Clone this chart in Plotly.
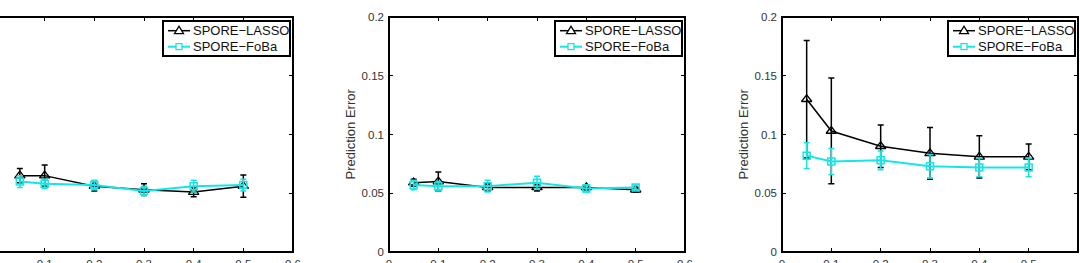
import plotly.graph_objects as go

# ---------------- data ----------------
x_vals = [0.05, 0.1, 0.2, 0.3, 0.4, 0.5]
series_names = ["SPORE−LASSO", "SPORE−FoBa"]

lasso_1 = [0.065, 0.065, 0.056, 0.053, 0.051, 0.056]
lasso_1_err = [0.006, 0.009, 0.004, 0.005, 0.004, 0.0095]
foba_1 = [0.060, 0.058, 0.057, 0.052, 0.056, 0.057]
foba_1_err = [0.005, 0.004, 0.004, 0.004, 0.005, 0.005]

lasso_2 = [0.059, 0.060, 0.055, 0.055, 0.055, 0.053]
lasso_2_err = [0.003, 0.008, 0.003, 0.003, 0.002, 0.002]
foba_2 = [0.057, 0.056, 0.056, 0.059, 0.054, 0.055]
foba_2_err = [0.004, 0.004, 0.005, 0.0055, 0.003, 0.002]

lasso_3 = [0.130, 0.103, 0.090, 0.084, 0.081, 0.081]
lasso_3_err = [0.050, 0.045, 0.018, 0.022, 0.018, 0.011]
foba_3 = [0.082, 0.077, 0.078, 0.073, 0.072, 0.072]
foba_3_err = [0.011, 0.011, 0.008, 0.010, 0.008, 0.008]

y_title = "Prediction Error"

# ---------------- styling / layout ----------------
W, H = 1080, 263
def fx(p): return p / W
def fy(p): return 1 - p / H

BLACK = "#000000"
CYAN = "#14e6e6"
FONT = "Liberation Sans, Arial, sans-serif"

panels = [(-5, 293), (389, 685), (782, 1078)]
TOP, BOT = 17, 252
XMAX = 0.6

data = [
    (lasso_1, lasso_1_err, foba_1, foba_1_err),
    (lasso_2, lasso_2_err, foba_2, foba_2_err),
    (lasso_3, lasso_3_err, foba_3, foba_3_err),
]

fig = go.Figure()
shapes = []
annotations = []

for i, ((l, r), (ly, le, fyv, fe)) in enumerate(zip(panels, data)):
    n = "" if i == 0 else str(i + 1)
    xa, ya = "x" + n, "y" + n
    fig.add_trace(go.Scatter(
        x=x_vals, y=ly, xaxis=xa, yaxis=ya, mode="lines+markers",
        name=series_names[0], showlegend=False,
        line=dict(color=BLACK, width=1.5),
        marker=dict(symbol="triangle-up-open", size=9, color=BLACK, line=dict(width=1.3)),
        error_y=dict(type="data", array=le, visible=True, color=BLACK, thickness=1.5, width=3),
    ))
    fig.add_trace(go.Scatter(
        x=x_vals, y=fyv, xaxis=xa, yaxis=ya, mode="lines+markers",
        name=series_names[1], showlegend=False,
        line=dict(color=CYAN, width=2),
        marker=dict(symbol="square-open", size=7, color=CYAN, line=dict(width=1.5)),
        error_y=dict(type="data", array=fe, visible=True, color=CYAN, thickness=1.5, width=3),
    ))

    left_vis = max(l, 0)
    x0val = XMAX * (left_vis - l) / (r - l)
    axis_common = dict(showgrid=False, zeroline=False, ticks="inside", ticklen=4,
                       tickwidth=1, tickcolor=BLACK, automargin=False,
                       tickfont=dict(family=FONT, size=11.5, color="#333333"))
    fig.update_layout(**{
        ("xaxis" + n): dict(domain=[fx(left_vis), fx(r)], range=[x0val, XMAX],
                            tick0=0, dtick=0.1, anchor=ya, showline=False,
                            mirror="ticks", ticklabelstandoff=3, **axis_common),
        ("yaxis" + n): dict(domain=[fy(BOT), fy(TOP)], range=[0, 0.2], dtick=0.05,
                            anchor=xa, showline=False,
                            side="right" if i == 0 else "left",
                            mirror=False if i == 0 else "ticks",
                            showticklabels=(i != 0), ticklabelstandoff=4,
                            **axis_common),
    })

    # plot box
    shapes.append(dict(type="rect", xref="paper", yref="paper",
                       x0=fx(l), x1=fx(r), y0=fy(BOT), y1=fy(TOP),
                       line=dict(color=BLACK, width=2), layer="above"))

    # y-axis title
    annotations.append(dict(text=y_title, xref="paper", yref="paper",
                            x=fx(l - 39), y=fy((TOP + BOT) / 2), textangle=-90,
                            showarrow=False, xanchor="center", yanchor="middle",
                            font=dict(family=FONT, size=13, color="#333333")))

    # legend box (manual)
    bR = r - 3
    bL = bR - 127
    bT, bB = 21, 56
    shapes.append(dict(type="rect", xref="paper", yref="paper",
                       x0=fx(bL), x1=fx(bR), y0=fy(bB), y1=fy(bT),
                       line=dict(color=BLACK, width=2), fillcolor="white", layer="above"))
    rows = [30.7, 46.7]
    for j, (cy, col) in enumerate(zip(rows, [BLACK, CYAN])):
        shapes.append(dict(type="line", xref="paper", yref="paper",
                           x0=fx(bL + 5), x1=fx(bL + 27), y0=fy(cy), y1=fy(cy),
                           line=dict(color=col, width=1.5 if j == 0 else 2), layer="above"))
        cx = bL + 16
        if j == 0:
            path = "M {} {} L {} {} L {} {} Z".format(
                fx(cx - 4.5), fy(cy + 3), fx(cx + 4.5), fy(cy + 3), fx(cx), fy(cy - 4.5))
        else:
            path = "M {} {} L {} {} L {} {} L {} {} Z".format(
                fx(cx - 3), fy(cy - 3), fx(cx + 3), fy(cy - 3),
                fx(cx + 3), fy(cy + 3), fx(cx - 3), fy(cy + 3))
        shapes.append(dict(type="path", xref="paper", yref="paper", path=path,
                           line=dict(color=col, width=1.3), fillcolor="white", layer="above"))
        annotations.append(dict(text=series_names[j], xref="paper", yref="paper",
                                x=fx(bL + 28), y=fy(cy), xanchor="left", yanchor="middle",
                                showarrow=False,
                                font=dict(family=FONT, size=13, color="#111111")))

fig.update_layout(
    width=W, height=H, margin=dict(l=0, r=0, t=0, b=0),
    paper_bgcolor="white", plot_bgcolor="white",
    showlegend=False, shapes=shapes, annotations=annotations,
    template="none",
)

fig.write_html("out.html")
